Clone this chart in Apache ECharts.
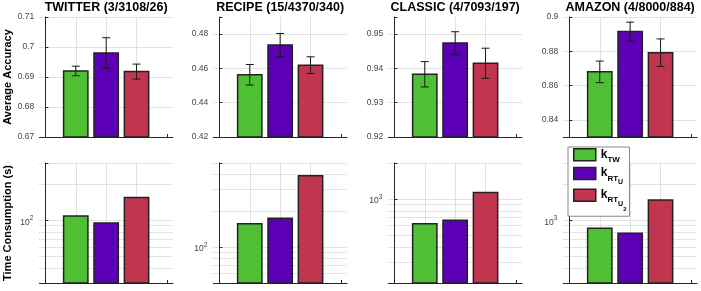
<!DOCTYPE html>
<html><head><meta charset="utf-8">
<script src="https://cdn.jsdelivr.net/npm/echarts@6/dist/echarts.min.js"></script>
<style>html,body{margin:0;padding:0;background:#fff}#c{width:701px;height:291px}</style>
</head><body><div id="c"></div>
<script>
// ---- data ----
const titles = ['TWITTER (3/3108/26)', 'RECIPE (15/4370/340)', 'CLASSIC (4/7093/197)', 'AMAZON (4/8000/884)'];
const methods = ['kTW', 'kRTU', 'kRTU2'];
const methodX = [1, 2, 3];
const accTW   = [0.6920, 0.4563, 0.9383, 0.8680];
const accRTU  = [0.6980, 0.4736, 0.9474, 0.8915];
const accRTU2 = [0.6918, 0.4619, 0.9415, 0.8792];
const errTW   = [0.0016, 0.0060, 0.0037, 0.0063];
const errRTU  = [0.0051, 0.0068, 0.0033, 0.0055];
const errRTU2 = [0.0025, 0.0049, 0.0044, 0.0080];
const timeTW   = [108.7, 156, 623, 858];
const timeRTU  = [95, 173, 668, 779];
const timeRTU2 = [154.5, 391, 1137, 1477];
const accMin  = [0.67, 0.42, 0.92, 0.83];
const accMax  = [0.71, 0.49, 0.955, 0.90];
const accStep = [0.01, 0.02, 0.01, 0.02];
const timeMin = [30, 50, 200, 300];
const timeMax = [300, 500, 2000, 3000];
const xMin = -0.2, xMax = 4.2;

// ---- styles / layout ----
const colors = ['#4fc034', '#5b00b6', '#c1354f'];
const FONT = 'Liberation Sans, Arial, Helvetica, sans-serif';
const lefts = [39.3, 213.3, 388.3, 563.3];
const gw = 133.7, gh = 120, topY = 17, botY = 163;
const gridCol = '#e2e2e2', axisCol = '#262626';

const accs = [accTW, accRTU, accRTU2];
const errs = [errTW, errRTU, errRTU2];
const times = [timeTW, timeRTU, timeRTU2];

function isMult(v, s) { return Math.abs(v / s - Math.round(v / s)) < 1e-6; }

function barItem(base) {
  return function (params, api) {
    const x = api.value(0), v = api.value(1);
    const a = api.coord([x - 0.4, v]);
    const b = api.coord([x + 0.4, base]);
    return { type: 'rect', shape: { x: a[0], y: a[1], width: b[0] - a[0], height: b[1] - a[1] },
      style: { fill: api.visual('color'), stroke: '#222', lineWidth: 1.5 } };
  };
}
function errItem(params, api) {
  const x = api.value(0), m = api.value(1), e = api.value(2);
  const t = api.coord([x, m + e]), b = api.coord([x, m - e]);
  const cw = 4, st = { stroke: '#1a1a1a', lineWidth: 1 };
  return { type: 'group', children: [
    { type: 'line', shape: { x1: t[0], y1: t[1], x2: b[0], y2: b[1] }, style: st },
    { type: 'line', shape: { x1: t[0] - cw, y1: t[1], x2: t[0] + cw, y2: t[1] }, style: st },
    { type: 'line', shape: { x1: b[0] - cw, y1: b[1], x2: b[0] + cw, y2: b[1] }, style: st }
  ] };
}

const grid = [], xAxis = [], yAxis = [], series = [], title = [];
for (let p = 0; p < 4; p++) {
  title.push({ text: titles[p], left: lefts[p] + gw / 2, top: 1, textAlign: 'center', padding: 0,
    textStyle: { fontFamily: FONT, fontSize: 12.5, fontWeight: 'bold', color: '#000' } });
}
for (let r = 0; r < 2; r++) {
  for (let p = 0; p < 4; p++) {
    const gi = r * 4 + p;
    grid.push({ left: lefts[p], top: r === 0 ? topY : botY, width: gw, height: gh });
    xAxis.push({ type: 'value', gridIndex: gi, min: xMin, max: xMax, minInterval: 1, maxInterval: 1,
      axisLabel: { show: false },
      axisTick: { show: true, inside: true, length: 3, lineStyle: { color: axisCol }, customValues: [0, 1, 2, 3, 4] },
      axisLine: { show: true, onZero: false, lineStyle: { color: axisCol, width: 1 } },
      splitLine: { show: true, showMinLine: false, showMaxLine: false, lineStyle: { color: gridCol, width: 1 } } });
    const nameOpt = p === 0 ? {
      name: r === 0 ? 'Average Accuracy' : 'Time Consumption (s)', nameLocation: 'middle', nameRotate: 90, nameGap: 26,
      nameTextStyle: { fontFamily: FONT, fontSize: 11, fontWeight: 'bold', color: '#000' } } : {};
    if (r === 0) {
      const step = accStep[p];
      const y = Object.assign({ type: 'value', gridIndex: gi, min: accMin[p], max: accMax[p], z: 6,
        axisLabel: { fontFamily: FONT, fontSize: 8.5, color: '#444', margin: 5,
          formatter: v => isMult(v, step) ? String(+v.toFixed(3)) : '' },
        axisTick: { show: true, inside: true, length: 3, lineStyle: { color: axisCol } },
        axisLine: { show: true, lineStyle: { color: axisCol, width: 1 } },
        splitLine: { show: true, showMinLine: false, showMaxLine: isMult(accMax[p], step), lineStyle: { color: gridCol, width: 1 } }
      }, nameOpt);
      if (isMult(accMin[p], step)) y.interval = step; else { y.minInterval = step; y.maxInterval = step; }
      yAxis.push(y);
    } else {
      yAxis.push(Object.assign({ type: 'log', logBase: 10, gridIndex: gi, min: timeMin[p], max: timeMax[p], z: 6,
        axisLabel: { fontFamily: FONT, color: '#444', margin: 6,
          formatter: v => { const l = Math.round(Math.log10(v) * 1000) / 1000; return Number.isInteger(l) ? '{b|10}{s|' + l + '}' : ''; },
          rich: { b: { fontFamily: FONT, fontSize: 8.5, color: '#444', padding: [4, 0, 0, 0] },
                  s: { fontFamily: FONT, fontSize: 6.5, color: '#444', padding: [0, 0, 4, 0] } } },
        axisTick: { show: true, inside: true, length: 3, lineStyle: { color: axisCol } },
        axisLine: { show: true, lineStyle: { color: axisCol, width: 1 } },
        splitLine: { show: false }
      }, nameOpt));
    }
  }
}

for (let p = 0; p < 4; p++) {
  // accuracy bars
  for (let m = 0; m < 3; m++) {
    series.push({ type: 'custom', name: methods[m], xAxisIndex: p, yAxisIndex: p, z: 10,
      itemStyle: { color: colors[m], borderColor: '#222', borderWidth: 1.5 },
      renderItem: barItem(accMin[p]), encode: { x: 0, y: 1 },
      data: [[methodX[m], accs[m][p]]] });
  }
  series.push({ type: 'custom', name: 'err' + p, xAxisIndex: p, yAxisIndex: p, z: 11,
    renderItem: errItem, encode: { x: 0, y: 1 },
    data: [0, 1, 2].map(m => [methodX[m], accs[m][p], errs[m][p]]) });
  // time bars
  const gi = 4 + p;
  const lines = [];
  for (let d = Math.floor(Math.log10(timeMin[p])); d <= Math.ceil(Math.log10(timeMax[p])); d++) {
    for (let k = 1; k <= 9; k++) {
      const v = k * Math.pow(10, d);
      if (v > timeMin[p] * 1.0001 && v <= timeMax[p] * 1.0001) {
        lines.push({ yAxis: v, lineStyle: { color: k === 1 ? gridCol : '#c8c8c8', type: k === 1 ? 'solid' : 'dotted', width: 1 } });
      }
    }
  }
  for (let m = 0; m < 3; m++) {
    const s = { type: 'custom', name: methods[m], xAxisIndex: gi, yAxisIndex: gi, z: 10,
      itemStyle: { color: colors[m], borderColor: '#222', borderWidth: 1.5 },
      renderItem: barItem(timeMin[p]), encode: { x: 0, y: 1 },
      data: [[methodX[m], times[m][p]]] };
    if (m === 0) s.markLine = { silent: true, symbol: ['none', 'none'], label: { show: false }, animation: false, data: lines };
    series.push(s);
  }
}

const legendText = { kTW: '{k|k}{s|TW}', kRTU: '{k|k}{s|RT}{ss|U}', kRTU2: '{k|k}{s|RT}{ss|U}{sss|2}' };

const chart = echarts.init(document.getElementById('c'), null, { renderer: 'canvas' });
chart.setOption({
  animation: false,
  backgroundColor: '#fff',
  title, grid, xAxis, yAxis, series,
  legend: {
    data: methods, orient: 'vertical', left: 568, top: 147, z: 20,
    padding: [1, 3, 4, 5], itemGap: 3, itemWidth: 22, itemHeight: 12,
    backgroundColor: '#fff', borderColor: '#888', borderWidth: 1, borderRadius: 0,
    icon: 'rect', selectedMode: false,
    itemStyle: { borderColor: '#222', borderWidth: 1.5 },
    formatter: n => legendText[n],
    textStyle: { fontFamily: FONT, color: '#000',
      rich: {
        k: { fontFamily: FONT, fontSize: 12, fontWeight: 'bold', lineHeight: 13, verticalAlign: 'top', color: '#000' },
        s: { fontFamily: FONT, fontSize: 8, fontWeight: 'bold', lineHeight: 9, padding: [7.5, 0, 0, 0], verticalAlign: 'top', color: '#000' },
        ss: { fontFamily: FONT, fontSize: 7, fontWeight: 'bold', lineHeight: 8, padding: [11.5, 0, 0, 0], verticalAlign: 'top', color: '#000' },
        sss: { fontFamily: FONT, fontSize: 6, fontWeight: 'bold', lineHeight: 7, padding: [17.5, 0, 0, 0], verticalAlign: 'top', color: '#000' }
      } }
  }
});
</script></body></html>
